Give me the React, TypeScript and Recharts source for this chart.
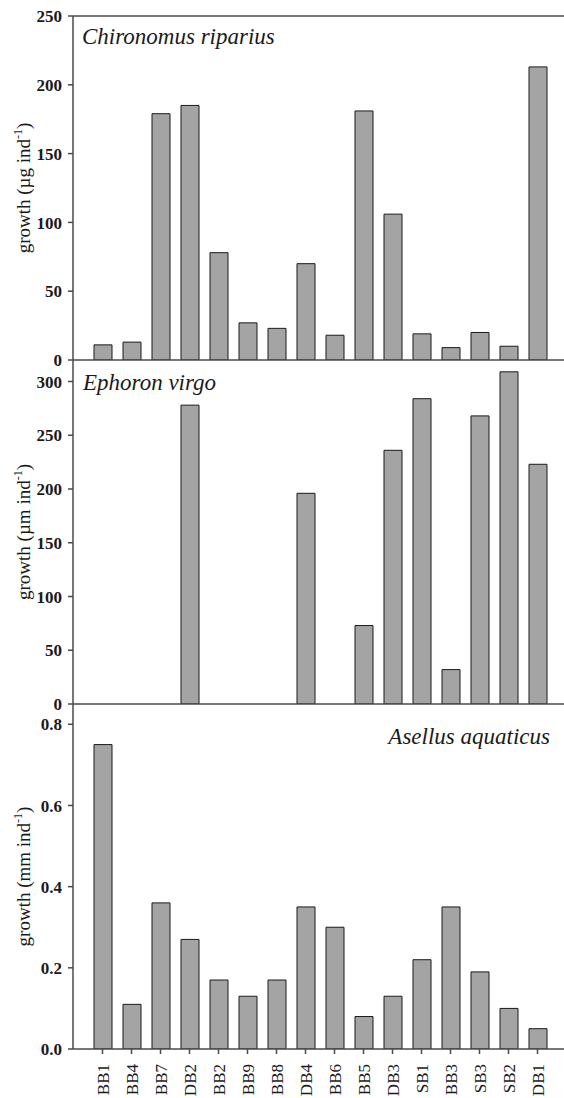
import React from 'react';
import {BarChart, Bar, XAxis, YAxis, ReferenceLine, Label} from 'recharts';

const sites = ['BB1', 'BB4', 'BB7', 'DB2', 'BB2', 'BB9', 'BB8', 'DB4', 'BB6', 'BB5', 'DB3', 'SB1', 'BB3', 'SB3', 'SB2', 'DB1'];
const chironomus = [11, 13, 179, 185, 78, 27, 23, 70, 18, 181, 106, 19, 9, 20, 10, 213];
const ephoron = [null, null, null, 278, null, null, null, 196, null, 73, 236, 284, 32, 268, 309, 223];
const asellus = [0.75, 0.11, 0.36, 0.27, 0.17, 0.13, 0.17, 0.35, 0.3, 0.08, 0.13, 0.22, 0.35, 0.19, 0.1, 0.05];

const chironomusTicks = [0, 50, 100, 150, 200, 250];
const ephoronTicks = [0, 50, 100, 150, 200, 250, 300];
const asellusTicks = [0, 0.2, 0.4, 0.6, 0.8];

const FONT = '"Liberation Serif", "Times New Roman", serif';
const AXIS = '#4a4a4a';
const INK = '#1a1a1a';
const W = 564;

const rows = sites.map((site, i) => ({
  site,
  chironomus: chironomus[i],
  ephoron: ephoron[i],
  asellus: asellus[i],
}));

function YLabel({viewBox, unit}: any) {
  const cx = viewBox.x + 26;
  const cy = viewBox.y + viewBox.height / 2;
  return (
    <text
      x={cx}
      y={cy}
      transform={`rotate(-90, ${cx}, ${cy})`}
      textAnchor="middle"
      dominantBaseline="middle"
      fontFamily={FONT}
      fontSize={19}
      fill={INK}>
      {`growth (${unit} ind`}
      <tspan dy={-7} fontSize={12}>
        -1
      </tspan>
      <tspan dy={7}>)</tspan>
    </text>
  );
}

function ValueTick({x, y, payload, fmt}: any) {
  return (
    <text
      x={x}
      y={y}
      textAnchor="end"
      dy="0.36em"
      fontFamily={FONT}
      fontSize={17}
      fontWeight="bold"
      fill={INK}>
      {fmt ? fmt(payload.value) : payload.value}
    </text>
  );
}

function SiteTick({x, y, payload}: any) {
  return (
    <text
      x={x}
      y={y + 8}
      transform={`rotate(-90, ${x}, ${y + 8})`}
      textAnchor="end"
      dy="0.36em"
      fontFamily={FONT}
      fontSize={17}
      fill={INK}>
      {payload.value}
    </text>
  );
}

function Panel({top, height, marginTop, xHeight, dataKey, domain, ticks, unit, fmt, showSites, children}: any) {
  return (
    <div style={{position: 'absolute', left: 0, top, width: W, height}}>
      <BarChart
        width={W}
        height={height}
        data={rows}
        margin={{top: marginTop, right: 0, left: 0, bottom: 0}}
        barSize={18}>
        <XAxis
          dataKey="site"
          height={xHeight}
          padding={{left: 15, right: 12}}
          stroke={AXIS}
          strokeWidth={1.5}
          tickSize={5}
          interval={0}
          tick={showSites ? <SiteTick /> : false}
        />
        <YAxis
          width={73}
          domain={domain}
          ticks={ticks}
          interval={0}
          allowDataOverflow
          stroke={AXIS}
          strokeWidth={1.5}
          tickSize={5}
          tickMargin={6}
          tick={<ValueTick fmt={fmt} />}>
          <Label content={(p: any) => <YLabel {...p} unit={unit} />} />
        </YAxis>
        <Bar dataKey={dataKey} fill="#a4a4a4" stroke={INK} strokeWidth={1} isAnimationActive={false} />
        {children}
      </BarChart>
    </div>
  );
}

export default function App() {
  return (
    <div style={{position: 'absolute', left: 0, top: 0, width: W, height: 1098, background: '#fff'}}>
      <Panel
        top={0}
        height={370}
        marginTop={16}
        xHeight={10}
        dataKey="chironomus"
        domain={[0, 250]}
        ticks={chironomusTicks}
        unit="µg">
        <ReferenceLine y={250} stroke={AXIS} strokeWidth={1.5} />
        <text x={82} y={44} fontFamily={FONT} fontStyle="italic" fontSize={23} fill={INK}>
          Chironomus riparius
        </text>
      </Panel>
      <Panel
        top={360}
        height={354}
        marginTop={0}
        xHeight={10}
        dataKey="ephoron"
        domain={[0, 320]}
        ticks={ephoronTicks}
        unit="µm">
        <text x={83} y={30} fontFamily={FONT} fontStyle="italic" fontSize={23} fill={INK}>
          Ephoron virgo
        </text>
      </Panel>
      <Panel
        top={704}
        height={394}
        marginTop={0}
        xHeight={49}
        dataKey="asellus"
        domain={[0, 0.85]}
        ticks={asellusTicks}
        unit="mm"
        fmt={(v: number) => v.toFixed(1)}
        showSites>
        <text x={550} y={40} textAnchor="end" fontFamily={FONT} fontStyle="italic" fontSize={23} fill={INK}>
          Asellus aquaticus
        </text>
      </Panel>
    </div>
  );
}
